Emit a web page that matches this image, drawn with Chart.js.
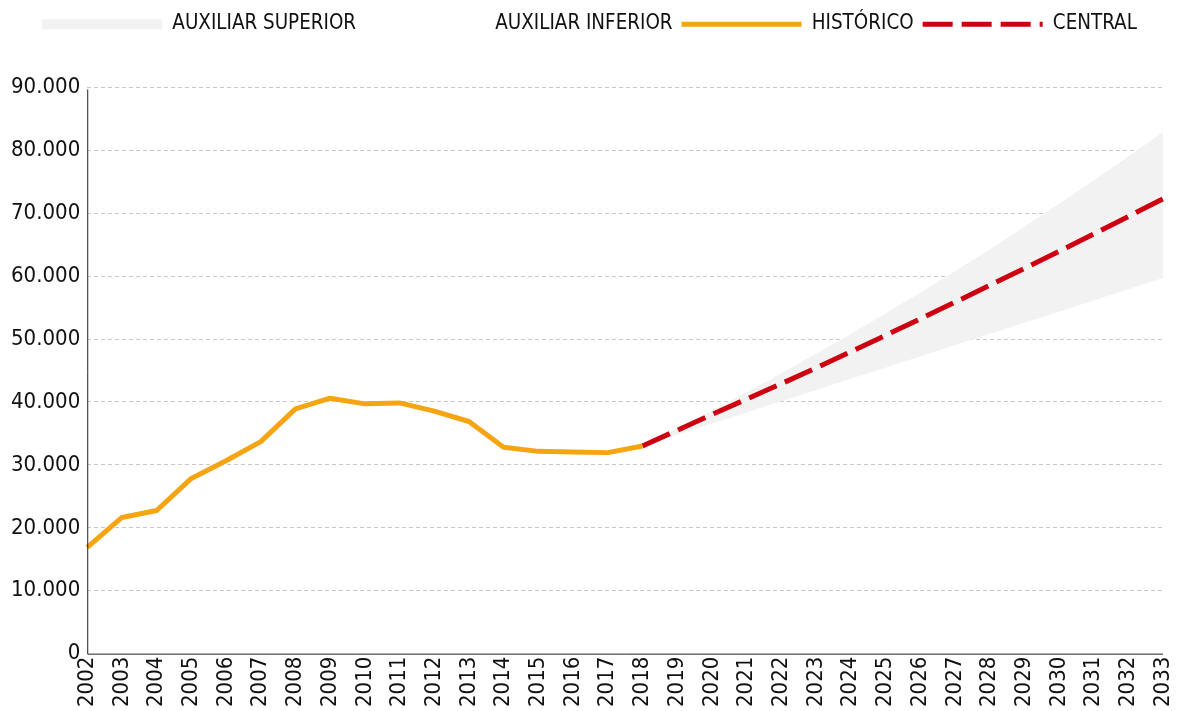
<!DOCTYPE html>
<html>
<head>
<meta charset="utf-8">
<script src="https://cdn.jsdelivr.net/npm/chart.js@4.4.1/dist/chart.umd.min.js"></script>
<style>
  html, body { margin: 0; padding: 0; background: #ffffff; }
  #wrap { width: 1177px; height: 711px; }
</style>
</head>
<body>
<div id="wrap"><canvas id="c" width="1177" height="711"></canvas></div>
<script>
// ---- data ----
const years = ['2002','2003','2004','2005','2006','2007','2008','2009','2010','2011','2012','2013','2014','2015','2016','2017','2018','2019','2020','2021','2022','2023','2024','2025','2026','2027','2028','2029','2030','2031','2032','2033'];
const histYears = ['2002','2003','2004','2005','2006','2007','2008','2009','2010','2011','2012','2013','2014','2015','2016','2017','2018'];
const historico = [16900, 21650, 22750, 27850, 30650, 33700, 38900, 40600, 39700, 39850, 38550, 36900, 32800, 32150, 32050, 31950, 33000];
const forecastYears = ['2018','2019','2020','2021','2022','2023','2024','2025','2026','2027','2028','2029','2030','2031','2032','2033'];
const central = [33000, 35500, 38000, 40450, 42900, 45420, 47990, 50580, 53200, 55840, 58520, 61220, 63940, 66700, 69480, 72290];
const auxSuperior = [33000, 35780, 38630, 41560, 44560, 47650, 50810, 54050, 57370, 60770, 64250, 67810, 71460, 75190, 79010, 82910];
const auxInferior = [33000, 34780, 36560, 38340, 40120, 41900, 43680, 45460, 47240, 49020, 50800, 52580, 54360, 56140, 57920, 59700];
const yTicks = [0, 10000, 20000, 30000, 40000, 50000, 60000, 70000, 80000, 90000];

const FONT = "'DejaVu Sans Condensed', 'DejaVu Sans', sans-serif";
const ORANGE = '#F5A511';
const RED = '#CC0011';
const BAND = '#F2F2F2';

function pairs(xs, ys) { return xs.map((x, i) => ({ x: x, y: ys[i] })); }
function fmt(v) { return String(v).replace(/\B(?=(\d{3})+(?!\d))/g, '.'); }

const legendStyles = [
  { pointStyle: 'rect', fillStyle: BAND, strokeStyle: BAND, lineWidth: 0, lineDash: [] },
  { pointStyle: 'rect', fillStyle: 'rgba(255,255,255,0)', strokeStyle: 'rgba(255,255,255,0)', lineWidth: 0, lineDash: [] },
  { pointStyle: 'line', fillStyle: ORANGE, strokeStyle: ORANGE, lineWidth: 5, lineDash: [] },
  { pointStyle: 'line', fillStyle: RED, strokeStyle: RED, lineWidth: 5, lineDash: [30, 9] }
];

const legendSpace = {
  id: 'legendSpace',
  beforeInit(chart) {
    if (!chart.legend) return;
    const lg = chart.legend;
    const origFit = lg.fit;
    lg.fit = function () {
      origFit.call(this);
      this.height += 43;
    };
    const origDraw = lg.draw;
    lg.draw = function () {
      this.left += 6; this.right += 6;
      origDraw.call(this);
      this.left -= 6; this.right -= 6;
    };
  }
};

// solid axis lines drawn on top (grid lines are dashed)
const axisLines = {
  id: 'axisLines',
  afterDatasetsDraw(chart) {
    const { ctx, chartArea } = chart;
    ctx.save();
    ctx.setLineDash([]);
    ctx.strokeStyle = '#222';
    ctx.lineWidth = 1;
    ctx.beginPath();
    ctx.moveTo(chartArea.left + 0.5, chartArea.top + 2);
    ctx.lineTo(chartArea.left + 0.5, chartArea.bottom + 0.5);
    ctx.lineTo(chartArea.right, chartArea.bottom + 0.5);
    ctx.stroke();
    ctx.restore();
  }
};

new Chart(document.getElementById('c'), {
  type: 'line',
  data: {
    labels: years,
    datasets: [
      { label: 'AUXILIAR SUPERIOR', data: pairs(forecastYears, auxSuperior), borderWidth: 0, borderColor: 'rgba(0,0,0,0)', backgroundColor: BAND, fill: 1, pointRadius: 0, tension: 0 },
      { label: 'AUXILIAR INFERIOR', data: pairs(forecastYears, auxInferior), borderWidth: 0, borderColor: 'rgba(0,0,0,0)', backgroundColor: 'rgba(0,0,0,0)', fill: false, pointRadius: 0, tension: 0 },
      { label: 'HISTÓRICO', data: pairs(histYears, historico), borderWidth: 5, borderColor: ORANGE, fill: false, pointRadius: 0, tension: 0, borderJoinStyle: 'round', borderCapStyle: 'butt' },
      { label: 'CENTRAL', data: pairs(forecastYears, central), borderWidth: 5, borderColor: RED, borderDash: [30, 9], fill: false, pointRadius: 0, tension: 0, borderCapStyle: 'butt' }
    ]
  },
  options: {
    responsive: false,
    animation: false,
    devicePixelRatio: 1,
    layout: { padding: { left: 4, right: 14, top: 5, bottom: 1 } },
    plugins: {
      filler: { drawTime: 'beforeDatasetsDraw' },
      tooltip: { enabled: false },
      legend: {
        display: true,
        position: 'top',
        align: 'center',
        labels: {
          usePointStyle: true,
          pointStyleWidth: 120,
          boxWidth: 120,
          boxHeight: 10,
          padding: 9,
          color: '#111',
          font: { family: FONT, size: 20.4 },
          generateLabels(chart) {
            return chart.data.datasets.map((ds, i) => Object.assign({
              text: ds.label, datasetIndex: i, hidden: false, fontColor: '#111'
            }, legendStyles[i]));
          }
        }
      }
    },
    scales: {
      x: {
        type: 'category',
        offset: false,
        afterFit(scale) { scale.paddingLeft = 0; scale.paddingRight = 0; },
        grid: { display: false, drawTicks: false },
        border: { display: false },
        ticks: {
          autoSkip: false,
          minRotation: 90,
          maxRotation: 90,
          padding: 3,
          color: '#111',
          font: { family: FONT, size: 22 }
        }
      },
      y: {
        min: 0,
        max: 90000,
        afterBuildTicks(axis) { axis.ticks = yTicks.map(v => ({ value: v })); },
        grid: {
          color: (ctx) => ctx.tick && ctx.tick.value === 0 ? 'rgba(0,0,0,0)' : '#C8C8C8',
          lineWidth: 1,
          drawTicks: false
        },
        border: { display: false, dash: [4, 3] },
        ticks: {
          padding: 7,
          color: '#111',
          font: { family: FONT, size: 22 },
          callback: (v) => fmt(v)
        }
      }
    }
  },
  plugins: [legendSpace, axisLines]
});
</script>
</body>
</html>
